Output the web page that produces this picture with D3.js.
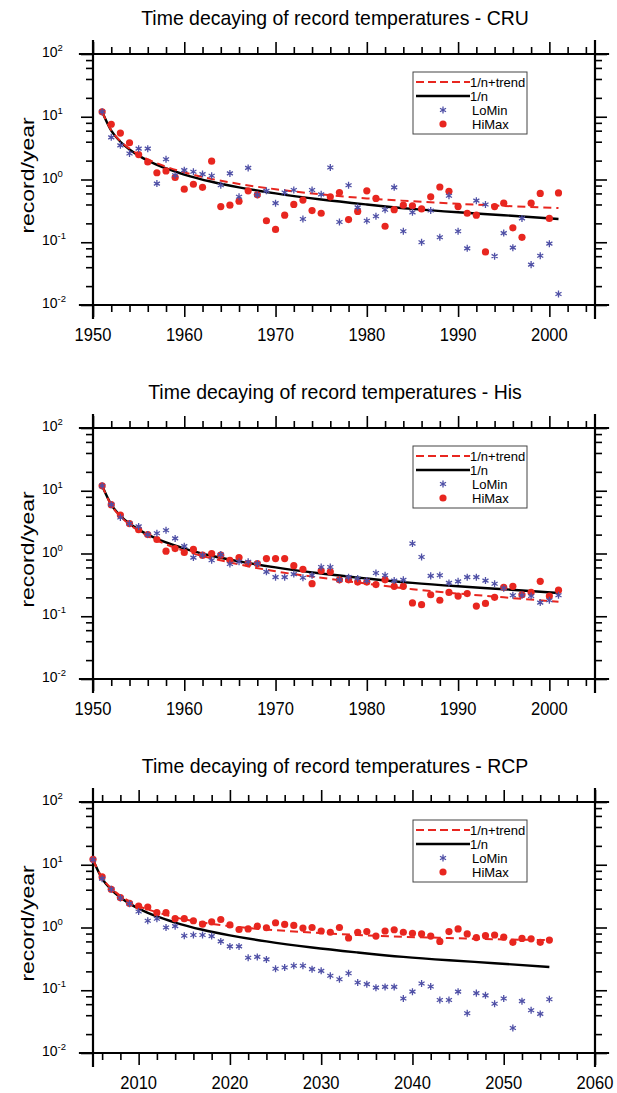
<!DOCTYPE html>
<html><head><meta charset="utf-8">
<script src="https://cdn.jsdelivr.net/npm/d3@7"></script>
<style>
body{margin:0;background:#fff}
svg{display:block}
text{font-family:"Liberation Sans",Arial,Helvetica,sans-serif;fill:#000}
</style>
</head><body>
<svg id="c" width="617" height="1093"></svg>
<script>
// ---------------- DATA ----------------
const titles = [
  "Time decaying of record temperatures - CRU",
  "Time decaying of record temperatures - His",
  "Time decaying of record temperatures - RCP"
];
const histTickLabels = ["1950","1960","1970","1980","1990","2000"];
const rcpTickLabels  = ["2010","2020","2030","2040","2050","2060"];
const yTickExps = ["2","1","0","-1","-2"];
const legendLabels = ["1/n+trend","1/n","LoMin","HiMax"];

// first year of each record series (one value per year)
const histStart = 1951, rcpStart = 2005;

// CRU observations 1951-2001
const cruHiMax = [12,7.6,5.5,3.85,2.5,1.9,1.28,1.37,1.08,0.70,
  0.84,0.75,1.96,0.37,0.39,0.45,0.66,0.57,0.22,0.16,
  0.27,0.40,0.47,0.32,0.29,0.53,0.62,0.23,0.31,0.66,
  0.50,0.18,0.33,0.39,0.38,0.34,0.53,0.76,0.65,0.37,
  0.29,0.27,0.070,0.37,0.42,0.17,0.12,0.42,0.60,0.24,
  0.61];
const cruLoMin = [12,4.7,3.5,2.6,3.1,3.1,0.86,2.1,1.17,1.41,
  1.33,1.22,1.15,0.81,1.25,0.53,1.53,0.57,0.66,0.42,
  0.62,0.68,0.235,0.68,0.58,1.55,0.21,0.81,0.36,0.22,
  0.26,0.33,0.75,0.15,0.30,0.10,0.32,0.12,0.55,0.15,
  0.08,0.46,0.40,0.06,0.14,0.082,0.24,0.044,0.061,0.095,
  0.015];

// Historical simulation 1951-2001
const hisHiMax = [12,6.0,4.1,3.0,2.4,2.0,1.67,1.09,1.2,1.04,
  1.16,0.94,1.0,0.94,0.78,0.86,0.69,0.69,0.83,0.83,
  0.83,0.64,0.56,0.33,0.53,0.51,0.38,0.38,0.35,0.35,
  0.32,0.38,0.30,0.30,0.163,0.153,0.22,0.18,0.24,0.21,
  0.23,0.145,0.16,0.20,0.29,0.30,0.22,0.24,0.36,0.21,
  0.26];
const hisLoMin = [12,6.0,3.75,3.0,2.7,2.0,2.1,2.35,1.74,1.31,
  0.86,0.94,0.78,0.96,0.68,0.74,0.74,0.69,0.51,0.42,
  0.42,0.47,0.41,0.45,0.61,0.61,0.38,0.42,0.40,0.37,
  0.49,0.45,0.37,0.38,1.44,0.88,0.44,0.45,0.34,0.36,
  0.42,0.42,0.37,0.33,0.28,0.216,0.216,0.21,0.165,0.18,
  0.216];

// RCP scenario 2005-2055
const rcpHiMax = [12.2,6.4,4.07,3.0,2.43,2.2,2.12,1.72,1.72,1.38,
  1.38,1.28,1.13,1.23,1.34,1.10,0.93,0.95,1.05,0.99,
  1.19,1.12,1.08,0.98,1.0,0.88,0.84,1.0,0.68,0.84,
  0.86,0.73,0.88,0.92,0.84,0.81,0.79,0.73,0.60,0.86,
  0.95,0.79,0.69,0.74,0.76,0.70,0.58,0.67,0.66,0.58,
  0.63];
const rcpLoMin = [12,6.0,4.07,2.95,2.4,1.8,1.28,1.38,1.0,1.05,
  0.74,0.76,0.76,0.73,0.60,0.50,0.50,0.33,0.34,0.31,
  0.22,0.23,0.246,0.246,0.217,0.204,0.17,0.15,0.187,0.133,
  0.125,0.11,0.113,0.113,0.074,0.095,0.128,0.115,0.070,0.070,
  0.095,0.043,0.09,0.083,0.061,0.074,0.025,0.067,0.048,0.042,
  0.072];

// curves, sampled at record index n (year = start + n - 1)
const curveN    = [1,2,3,4,5,6,8,10,13,16,20,25,30,35,40,45,51];
const oneOverN  = [12,6,4,3,2.4,2,1.5,1.2,0.92,0.75,0.6,0.48,0.4,0.34,0.3,0.27,0.235];
const cruTrend  = [12,6.1,4.1,3.1,2.5,2.1,1.6,1.3,1.02,0.85,0.7,0.58,0.5,0.45,0.41,0.38,0.35];
const hisTrend  = [12,5.9,3.9,2.9,2.3,1.9,1.4,1.1,0.84,0.67,0.52,0.41,0.33,0.27,0.23,0.2,0.17];
const rcpTrend  = [12,6.2,4.2,3.2,2.6,2.2,1.75,1.45,1.2,1.05,0.93,0.83,0.76,0.71,0.68,0.65,0.63];

// ---------------- DRAW ----------------
const RED = "#e8261f", BLUE = "#4f50a6";
const L = 93, R = 595, H = 251, EXT = 13;

const panels = [
  {title:titles[0], top:54,  x0:1950, x1:2005, start:histStart, hi:cruHiMax, lo:cruLoMin, trend:cruTrend, labels:histTickLabels},
  {title:titles[1], top:428, x0:1950, x1:2005, start:histStart, hi:hisHiMax, lo:hisLoMin, trend:hisTrend, labels:histTickLabels},
  {title:titles[2], top:802, x0:2005, x1:2060, start:rcpStart,  hi:rcpHiMax, lo:rcpLoMin, trend:rcpTrend, labels:rcpTickLabels}
];

const svg = d3.select("#c");

function asteriskPath(size){
  if (d3.symbolAsterisk) return d3.symbol().type(d3.symbolAsterisk).size(size)();
  const r = Math.sqrt(size)*0.6, a = r*0.866, b = r*0.5;
  return `M0,${-r}L0,${r}M${-a},${-b}L${a},${b}M${-a},${b}L${a},${-b}`;
}
const astD = asteriskPath(34);

panels.forEach(p => {
  const top = p.top, bot = top + H;
  const x = d3.scaleLinear().domain([p.x0, p.x1]).range([L, R]);
  const y = d3.scaleLog().domain([0.01, 100]).range([bot, top]);
  const g = svg.append("g");

  // title
  g.append("text")
    .attr("transform", `translate(335,${top-29}) scale(0.95,1)`)
    .attr("text-anchor","middle").attr("font-size",20.5).text(p.title);

  // y label
  g.append("text")
    .attr("transform", `translate(34,${(top+bot)/2-4}) scale(0.76,1) rotate(-90)`)
    .attr("text-anchor","middle").attr("font-size",23).text("record/year");

  // ticks
  const majors = p.labels.map(Number);
  const minorsX = d3.range(Math.ceil(p.x0/2)*2, p.x1+0.001, 2).filter(v => v % 10 !== 0 && v > p.x0 && v < p.x1);
  const yMaj = [100,10,1,0.1,0.01];
  const yMin = [];
  [0.01,0.1,1,10].forEach(dc => [2,4,6,8].forEach(m => yMin.push(m*dc)));

  function ax(fn, scale, vals, size, tr){
    g.append("g").attr("transform", tr)
      .call(fn(scale).tickValues(vals).tickSize(size).tickSizeOuter(0).tickFormat(""))
      .call(s => s.select(".domain").remove())
      .selectAll("line").attr("stroke","#000").attr("stroke-width",1.6);
  }
  const majX = majors.filter(v => v >= p.x0 && v <= p.x1);
  ax(d3.axisBottom, x, majX, 12, `translate(0,${bot})`);
  ax(d3.axisBottom, x, minorsX, 7, `translate(0,${bot})`);
  ax(d3.axisTop, x, majX, 12, `translate(0,${top})`);
  ax(d3.axisTop, x, minorsX, 7, `translate(0,${top})`);
  ax(d3.axisLeft, y, yMaj, 12, `translate(${L},0)`);
  ax(d3.axisLeft, y, yMin, 7, `translate(${L},0)`);
  ax(d3.axisRight, y, yMaj, 12, `translate(${R},0)`);
  ax(d3.axisRight, y, yMin, 7, `translate(${R},0)`);

  // frame lines (extended past corners)
  const fr = [[L-EXT,top,R+EXT,top],[L-EXT,bot,R+EXT,bot],[L,top-EXT,L,bot+EXT],[R,top-EXT,R,bot+EXT]];
  g.selectAll(null).data(fr).enter().append("line")
    .attr("x1",d=>d[0]).attr("y1",d=>d[1]).attr("x2",d=>d[2]).attr("y2",d=>d[3])
    .attr("stroke","#000").attr("stroke-width",2.2).attr("stroke-linecap","square");

  // x tick labels
  p.labels.forEach((lab) => {
    g.append("text")
      .attr("transform", `translate(${x(+lab)},${bot+36}) scale(0.87,1)`)
      .attr("text-anchor","middle").attr("font-size",19).text(lab);
  });

  // y tick labels
  yMaj.forEach((v,i) => {
    const t = g.append("text").attr("x",42).attr("y",y(v)+3).attr("font-size",14);
    t.append("tspan").text("10");
    t.append("tspan").attr("dy",-6).attr("font-size",9.5).text(yTickExps[i]);
  });

  // curves
  const line = d3.line().x(d => x(d[0])).y(d => y(d[1])).curve(d3.curveMonotoneX);
  const blackPts = curveN.map((n,i) => [p.start + n - 1, oneOverN[i]]);
  const trendPts = curveN.map((n,i) => [p.start + n - 1, p.trend[i]]);
  g.append("path").attr("d", line(blackPts)).attr("fill","none").attr("stroke","#000").attr("stroke-width",2.4);
  g.append("path").attr("d", line(trendPts)).attr("fill","none").attr("stroke",RED).attr("stroke-width",2)
    .attr("stroke-dasharray","8,5");

  // markers
  g.selectAll(null).data(p.hi).enter().append("circle")
    .attr("cx",(d,i)=>x(p.start+i)).attr("cy",d=>y(d)).attr("r",3.6).attr("fill",RED);
  g.selectAll(null).data(p.lo).enter().append("path")
    .attr("d", astD)
    .attr("transform",(d,i)=>`translate(${x(p.start+i)},${y(d)})`)
    .attr("fill","none").attr("stroke",BLUE).attr("stroke-width",1.3);

  // legend
  const lg = g.append("g");
  lg.append("rect").attr("x",413).attr("y",top+18).attr("width",114).attr("height",62)
    .attr("fill","#fff").attr("stroke","#444").attr("stroke-width",1);
  const rows = [top+28, top+42, top+56, top+70];
  lg.append("line").attr("x1",416).attr("x2",470).attr("y1",rows[0]).attr("y2",rows[0])
    .attr("stroke",RED).attr("stroke-width",2).attr("stroke-dasharray","8,4");
  lg.append("line").attr("x1",416).attr("x2",470).attr("y1",rows[1]).attr("y2",rows[1])
    .attr("stroke","#000").attr("stroke-width",2.4);
  lg.append("path").attr("d",astD).attr("transform",`translate(443,${rows[2]})`)
    .attr("fill","none").attr("stroke",BLUE).attr("stroke-width",1.3);
  lg.append("circle").attr("cx",443).attr("cy",rows[3]).attr("r",3.6).attr("fill",RED);
  legendLabels.forEach((t,i) => {
    lg.append("text").attr("x", i<2 ? 470 : 472).attr("y", rows[i]+4.5)
      .attr("font-size",13).text(t);
  });
});
</script>
</body></html>
